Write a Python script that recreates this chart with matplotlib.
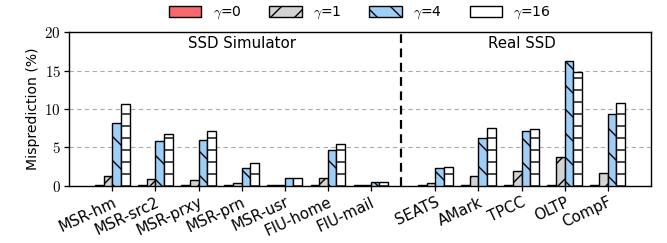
import matplotlib
matplotlib.use("Agg")
import matplotlib.pyplot as plt
import numpy as np

categories = ["MSR-hm", "MSR-src2", "MSR-prxy", "MSR-prn", "MSR-usr", "FIU-home", "FIU-mail",
              "SEATS", "AMark", "TPCC", "OLTP", "CompF"]
gamma0 = [0.05, 0.05, 0.05, 0.05, 0.05, 0.05, 0.05, 0.05, 0.05, 0.05, 0.05, 0.05]
gamma1 = [1.25, 0.87, 0.8, 0.3, 0.1, 1.0, 0.1, 0.35, 1.2, 1.9, 3.7, 1.65]
gamma4 = [8.2, 5.8, 6.0, 2.3, 1.0, 4.7, 0.5, 2.35, 6.2, 7.1, 16.3, 9.3]
gamma16 = [10.6, 6.8, 7.1, 2.9, 1.0, 5.4, 0.5, 2.4, 7.55, 7.45, 14.8, 10.8]
series_labels = [r"$\gamma$=0", r"$\gamma$=1", r"$\gamma$=4", r"$\gamma$=16"]

plt.rcParams['mathtext.fontset'] = 'cm'
plt.rcParams['hatch.linewidth'] = 1.4
plt.rcParams['font.family'] = ['DejaVu Sans']

dpi = 72
fig = plt.figure(figsize=(667 / dpi, 243 / dpi), dpi=dpi)
ax = fig.add_axes([0.104, 0.236, 0.8716, 0.631])

pos = np.array(list(range(7)) + [7.5, 8.5, 9.5, 10.5, 11.5])
w = 0.2
colors = ["#f8696b", "#d3d3d3", "#9dd0f9", "#ffffff"]
hatches = ["", "/", "\\", "-"]
data = [gamma0, gamma1, gamma4, gamma16]
offsets = [-1.5, -0.5, 0.5, 1.5]
handles = []
for d, c, h, o, lab in zip(data, colors, hatches, offsets, series_labels):
    b = ax.bar(pos + o * w, d, width=w, color=c, edgecolor="black", hatch=h,
               linewidth=1.4, label=lab, zorder=3)
    handles.append(b)

ax.set_xlim(-1, 12.5)
ax.set_ylim(0, 20)
ax.set_yticks([0, 5, 10, 15, 20])
ax.set_yticklabels([f"${v}$" for v in [0, 5, 10, 15, 20]], fontsize=15)
ax.yaxis.grid(True, linestyle=(0, (4, 3)), color="#aaaaaa", linewidth=1.1, zorder=0)
ax.set_xticks(pos)
ax.set_xticklabels(categories, rotation=25, ha="right", rotation_mode="anchor", fontsize=15)
ax.tick_params(axis="both", width=1.3, length=5)
ax.tick_params(axis="x", pad=4)
ax.set_ylabel("Misprediction (%)", fontsize=14)
for s in ax.spines.values():
    s.set_linewidth(1.4)

ax.axvline(6.7, color="black", linestyle=(0, (4, 2.5)), linewidth=2.2, zorder=4)
ax.text(3.0, 19.5, "SSD Simulator", ha="center", va="top", fontsize=15)
ax.text(9.5, 19.5, "Real SSD", ha="center", va="top", fontsize=15)

fig.legend(handles=handles, labels=series_labels, loc="center", bbox_to_anchor=(0.54, 0.945),
           ncol=4, frameon=False, fontsize=14, handlelength=2.3, handleheight=0.8,
           columnspacing=2.0, handletextpad=0.8)

fig.savefig("out.png", dpi=dpi)
